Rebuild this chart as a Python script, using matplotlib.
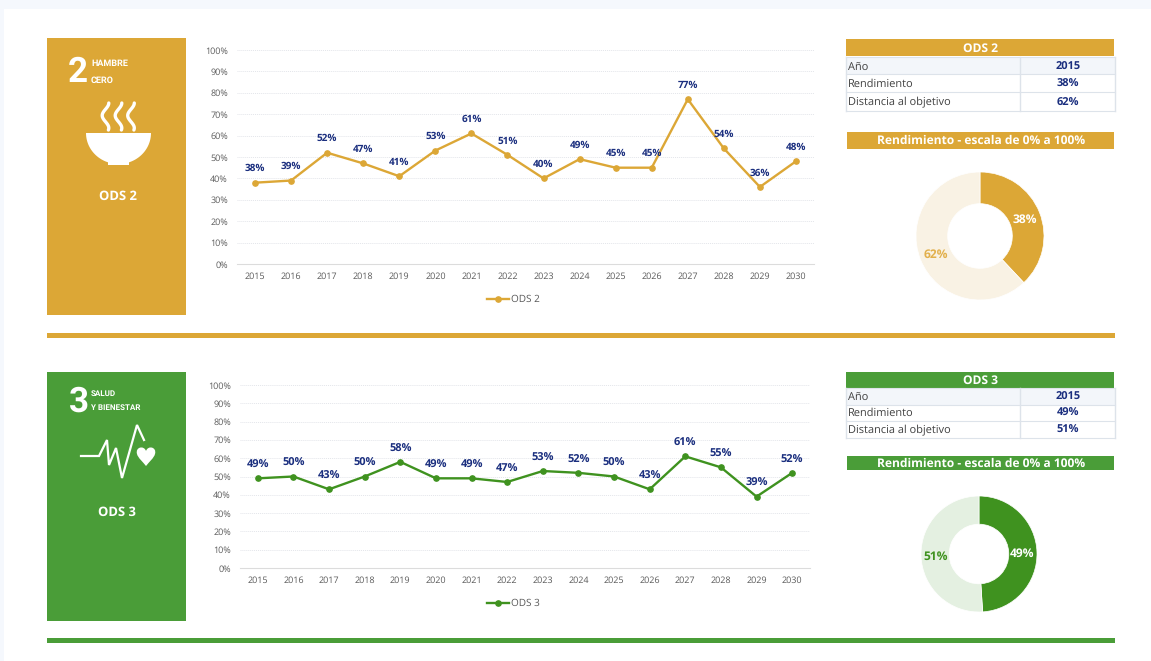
import matplotlib
matplotlib.use("Agg")
import matplotlib.pyplot as plt
from matplotlib.patches import Rectangle, Polygon, PathPatch
from matplotlib.path import Path
from matplotlib.ticker import FuncFormatter
import numpy as np

plt.rcParams['font.family'] = ['Open Sans', 'DejaVu Sans']
plt.rcParams['text.hinting'] = 'no_hinting'
plt.rcParams['text.hinting_factor'] = 1

years = [str(y) for y in range(2015, 2031)]
ods2 = [38, 39, 52, 47, 41, 53, 61, 51, 40, 49, 45, 45, 77, 54, 36, 48]
ods3 = [49, 50, 43, 50, 58, 49, 49, 47, 53, 52, 50, 43, 61, 55, 39, 52]
ods2_perf, ods3_perf = 38, 49
ods2_dist, ods3_dist = 62, 51

GOLD = '#dca736'
GREEN = '#4a9d38'
GREEN_D = '#3f921f'
GOLD_L = '#f9f2e4'
GREEN_L = '#e4f0e1'
NAVY = '#1b2f7f'
GRID = '#e3e5ea'
TXT = '#595959'
BOLD = dict(fontweight='bold')

W, H = 1151, 661
fig = plt.figure(figsize=(W / 100, H / 100), dpi=100, facecolor='#f5f8fd')


def axpx(x0, y0, x1, y1, **kw):
    return fig.add_axes([x0 / W, 1 - y1 / H, (x1 - x0) / W, (y1 - y0) / H], **kw)


bg = axpx(0, 0, W, H)
bg.set_xlim(0, W)
bg.set_ylim(H, 0)
bg.axis('off')


def rect(x0, y0, x1, y1, c, **kw):
    bg.add_patch(Rectangle((x0, y0), x1 - x0, y1 - y0, fc=c, ec='none', **kw))


rect(4, 9, W, H, 'white')


def line_chart(box, vals, color, name, lab_fs, legend_y, lab_off):
    ax = axpx(*box)
    ax.patch.set_alpha(0)
    x = np.arange(len(vals))
    ax.plot(x, vals, color=color, lw=1.7, marker='o', ms=3.8, label=name, zorder=3)
    ax.set_xlim(-0.5, len(vals) - 0.5)
    ax.set_ylim(0, 100)
    ax.set_xticks(x, years)
    ax.set_yticks(range(0, 101, 10))
    ax.yaxis.set_major_formatter(FuncFormatter(lambda v, _: f'{v:.0f}%'))
    ax.tick_params(length=0, labelsize=6.6, labelcolor=TXT)
    ax.tick_params(axis='y', pad=6.5)
    ax.tick_params(axis='x', pad=6)
    ax.grid(axis='y', color=GRID, lw=0.7, ls=(0, (1, 1)))
    ax.set_axisbelow(True)
    for s in ('top', 'right', 'left'):
        ax.spines[s].set_visible(False)
    ax.spines['bottom'].set_color('#dcdcdc')
    ax.spines['bottom'].set_linewidth(0.8)
    for xi, v in zip(x, vals):
        ax.annotate(f'{v}%', (xi, v), xytext=(0, lab_off), textcoords='offset points',
                    ha='center', va='bottom', fontsize=lab_fs, color=NAVY, **BOLD)
    cx = (box[0] + box[2]) / 2
    bg.plot([cx - 38, cx - 16], [legend_y, legend_y], color=color, lw=1.7, zorder=3)
    bg.plot([cx - 27], [legend_y], color=color, marker='o', ms=3.8, zorder=3)
    bg.text(cx - 14, legend_y, name, fontsize=7, color=TXT, va='center', ha='left')


def side_table(hdr, rows, color, title, band):
    rect(846, hdr[0], 1114, hdr[1], color)
    bg.text(981, (hdr[0] + hdr[1]) / 2 + 1, title, color='white', fontsize=8.4, ha='center', va='center', **BOLD)
    ys = rows
    rect(846, ys[0], 1115, ys[1], '#f3f6fa')
    for yy in ys:
        bg.plot([846, 1115], [yy, yy], color='#dde3ea', lw=0.8)
    for xx in (846, 1020, 1115):
        bg.plot([xx, xx], [ys[0], ys[-1]], color='#dde3ea', lw=1)
    rect(847, band[0], 1114, band[1], color)
    bg.text(981, (band[0] + band[1]) / 2 + 0.5, 'Rendimiento - escala de 0% a 100%', color='white',
            fontsize=8.55, ha='center', va='center', **BOLD)


def table_text(rows, labels, values, off):
    for i in range(3):
        yc = (rows[i] + rows[i + 1]) / 2 + off
        bg.text(848, yc, labels[i], fontsize=8.1, color='#404040', va='center', ha='left')
        bg.text(1068, yc, values[i], fontsize=8, color=NAVY, va='center', ha='center', **BOLD)


def donut(c, r, perf, dist, dark, light, txt_light, fs, width):
    size = 2 * r + 4
    ax = axpx(c[0] - size / 2, c[1] - size / 2, c[0] + size / 2, c[1] + size / 2)
    ax.patch.set_alpha(0)
    ax.pie([perf, dist], colors=[dark, light], startangle=90, counterclock=False,
           radius=r / (size / 2), wedgeprops=dict(width=width, edgecolor='white', linewidth=0.5))
    ax.set_xlim(-1, 1)
    ax.set_ylim(-1, 1)
    ang1 = np.deg2rad(90 - perf * 1.8)
    ang2 = np.deg2rad(90 - perf * 3.6 - dist * 1.8)
    k = 0.75 * r / (size / 2)
    dy = -1.5 / (size / 2)
    ax.text(k * np.cos(ang1), k * np.sin(ang1) + dy, f'{perf}%', color='white', fontsize=fs,
            ha='center', va='center', **BOLD)
    ax.text(k * np.cos(ang2), k * np.sin(ang2) + dy, f'{dist}%', color=txt_light, fontsize=fs,
            ha='center', va='center', **BOLD)


def narrow(x, y, s, fs):
    bg.text(x, y, s, color='white', fontsize=fs, va='center', ha='left',
            family=['Roboto', 'DejaVu Sans'], fontweight='bold')


# ---------- ODS 2 ----------
rect(47, 38, 186, 315, GOLD)
narrow(68, 72, '2', 25)
narrow(91, 64, 'HAMBRE', 6.4)
narrow(91, 80, 'CERO', 6.4)
for x0 in (105.5, 118.5, 131):
    yy = np.linspace(103, 130, 30)
    xx = x0 + 3.3 * np.cos(2 * np.pi * (yy - 103) / 25)
    bg.plot(xx, yy, color='white', lw=2.4, solid_capstyle='round')
t = np.linspace(np.pi, 2 * np.pi, 60)
bx = 118.5 + 32.5 * np.cos(t)
by = 133 - 31 * np.sin(t)
bg.add_patch(Polygon(np.column_stack([bx, by]), fc='white', ec='none'))
rect(108, 161, 129, 165, 'white')
bg.text(118, 197, 'ODS 2', color='white', fontsize=9, ha='center', va='center', **BOLD)

line_chart((237, 50, 814, 264), ods2, GOLD, 'ODS 2', 7.2, 299, 6.5)
rows2 = [57, 74, 92, 111]
side_table((39, 56), rows2, GOLD, 'ODS 2', (132, 149))
table_text(rows2, ['Año', 'Rendimiento', 'Distancia al objetivo'], ['2015', f'{ods2_perf}%', f'{ods2_dist}%'], 1.5)
donut((980, 236), 64, ods2_perf, ods2_dist, GOLD, GOLD_L, '#e2b04c', 8.3, 0.48)
rect(47, 333, 1115, 338, GOLD)

# ---------- ODS 3 ----------
rect(47, 372, 186, 621, GREEN)
narrow(69, 402, '3', 25)
narrow(91, 394, 'SALUD', 5.9)
narrow(91, 408, 'Y BIENESTAR', 5.9)
px = [81, 99, 107, 109, 116, 122, 137, 144]
py = [456, 456, 440, 465, 448, 478, 425, 440]
bg.plot(px, py, color='white', lw=1.6, solid_joinstyle='miter')
verts = [(146, 451), (148, 445), (157, 447), (155, 454), (154, 458), (149, 462), (146, 466),
         (143, 462), (138, 458), (137, 454), (135, 447), (144, 445), (146, 451)]
codes = [Path.MOVETO] + [Path.CURVE4] * 12
bg.add_patch(PathPatch(Path(verts, codes), fc='white', ec='none', zorder=3))
bg.text(117, 512, 'ODS 3', color='white', fontsize=9, ha='center', va='center', **BOLD)

line_chart((240, 385, 810, 568), ods3, GREEN_D, 'ODS 3', 7.8, 603, 5.6)
rows3 = [388, 405, 421, 438]
side_table((372, 388), rows3, GREEN, 'ODS 3', (456, 470))
table_text(rows3, ['Año', 'Rendimiento', 'Distancia al objetivo'], ['2015', f'{ods3_perf}%', f'{ods3_dist}%'], 0.5)
donut((979, 554), 58, ods3_perf, ods3_dist, GREEN_D, GREEN_L, GREEN_D, 8.3, 0.47)
rect(47, 638, 1115, 643, GREEN)

fig.savefig('out.png', dpi=100, facecolor=fig.get_facecolor())
